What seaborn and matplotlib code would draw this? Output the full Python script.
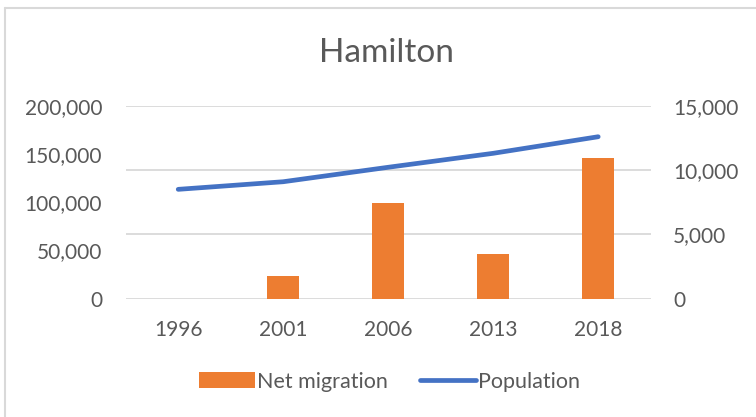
import matplotlib
matplotlib.use("Agg")
import matplotlib.pyplot as plt
from matplotlib.lines import Line2D
from matplotlib.patches import Patch
from matplotlib.ticker import FuncFormatter
import seaborn as sns
import pandas as pd

years = ["1996", "2001", "2006", "2013", "2018"]
net_migration = [0, 1770, 7450, 3480, 10950]
population = [113500, 121400, 136400, 150900, 168100]

left_ticks = [0, 50000, 100000, 150000, 200000]
right_ticks = [0, 5000, 10000, 15000]

ORANGE = "#ED7D31"
BLUE = "#4472C4"
TEXT = "#595959"
GRID = "#D9D9D9"
FONT = "Lato"

df = pd.DataFrame({"year": years, "net": net_migration, "pop": population})

sns.set_theme(style="white")
plt.rcParams["font.family"] = [FONT, "DejaVu Sans"]

fig = plt.figure(figsize=(7.56, 4.17), dpi=100)
ax = fig.add_axes([0.1663, 0.2837, 0.6944, 0.4621])
ax2 = ax.twinx()

# bars on the secondary (right) scale, line on the primary (left) scale
sns.barplot(data=df, x="year", y="net", ax=ax2, color=ORANGE, width=0.31,
            saturation=1, linewidth=0, order=years)
sns.lineplot(data=df, x="year", y="pop", ax=ax, color=BLUE, linewidth=3.4,
             sort=False)

ax.set_zorder(ax2.get_zorder() + 1)
ax.patch.set_visible(False)

ax.set_xlim(-0.5, 4.5)
ax.set_ylim(0, 200000)
ax2.set_ylim(0, 15000)
ax.set_yticks(left_ticks)
ax2.set_yticks(right_ticks)

fmt = FuncFormatter(lambda v, p: f"{int(v):,}")
ax.yaxis.set_major_formatter(fmt)
ax2.yaxis.set_major_formatter(fmt)

ax2.yaxis.grid(True, color=GRID, linewidth=1.3)
ax2.set_axisbelow(True)
ax.grid(False)

for a in (ax, ax2):
    for s in a.spines.values():
        s.set_visible(False)
    a.set_xlabel("")
    a.set_ylabel("")
    a.tick_params(length=0, labelsize=15, labelcolor=TEXT)

ax.tick_params(axis="y", pad=17)
ax2.tick_params(axis="y", pad=16)
ax.tick_params(axis="x", pad=15)
ax2.tick_params(axis="x", labelbottom=False)

fig.text(0.511, 0.872, "Hamilton", ha="center", va="center",
         fontsize=24, color=TEXT)

handles = [Patch(facecolor=ORANGE, edgecolor="none", label="Net migration"),
           Line2D([0], [0], color=BLUE, linewidth=3.4, label="Population")]
fig.legend(handles=handles, loc="center", bbox_to_anchor=(0.515, 0.085),
           ncol=2, frameon=False, fontsize=15.5, labelcolor=TEXT,
           handlelength=2.6, handletextpad=0.1, columnspacing=1.5)

# chart area border (left and top edges)
fig.add_artist(Line2D([4.7 / 756, 4.7 / 756], [0, 1 - 8 / 417],
                      color=GRID, linewidth=1.5, transform=fig.transFigure))
fig.add_artist(Line2D([4.7 / 756, 1], [1 - 8 / 417, 1 - 8 / 417],
                      color=GRID, linewidth=1.5, transform=fig.transFigure))

fig.savefig("out.png", dpi=100, facecolor="white")
